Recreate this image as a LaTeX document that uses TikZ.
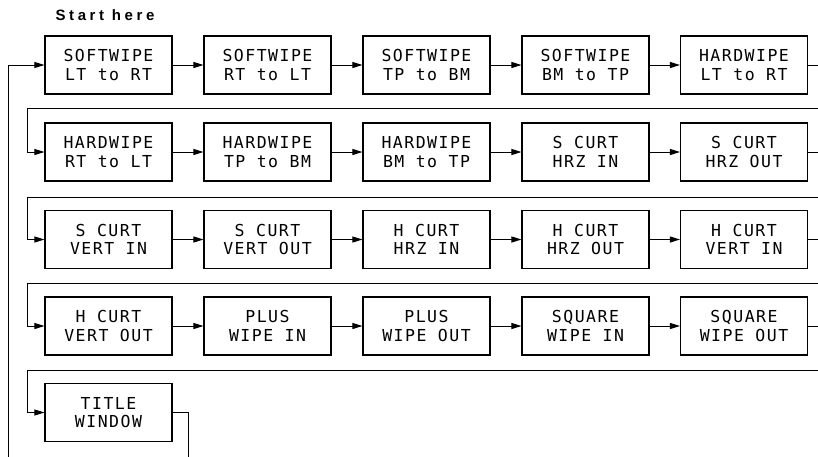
\documentclass[tikz,border=0pt]{standalone}
\usepackage{fontspec}
\setmainfont{Liberation Sans}
\newfontfamily\lcdfont[LetterSpace=9]{DejaVu Sans Mono}
\newfontfamily\headfont[LetterSpace=24]{Liberation Sans}
\usetikzlibrary{arrows, arrows.meta}

\begin{document}
\begin{tikzpicture}[x=1pt, y=-1pt, line width=1pt, >={Triangle[length=10pt, width=6pt]},
	mode/.style={draw, line width=1.1pt, minimum width=127pt, minimum height=58pt,
		inner sep=0pt, align=center, font=\lcdfont\fontsize{16.5}{18.5}\selectfont}]
			
			\clip (0,0) rectangle (818,456);
			
			\node[font=\headfont\bfseries\fontsize{15}{17}\selectfont] (start) at (105,15.5) {Start here};
			
			% row 1
			\node[mode] (sw1) at (108.5,65) {SOFTWIPE\\LT to RT};
			\node[mode] (sw2) at (267.5,65) {SOFTWIPE\\RT to LT};
			\node[mode] (sw3) at (426.5,65) {SOFTWIPE\\TP to BM};
			\node[mode] (sw4) at (585.5,65) {SOFTWIPE\\BM to TP};
			\node[mode] (hw1) at (744,65) {HARDWIPE\\LT to RT};
			
			% row 2
			\node[mode] (hw2) at (108.5,152) {HARDWIPE\\RT to LT};
			\node[mode] (hw3) at (267.5,152) {HARDWIPE\\TP to BM};
			\node[mode] (hw4) at (426.5,152) {HARDWIPE\\BM to TP};
			\node[mode] (sc1) at (585.5,152) {S CURT\\HRZ IN};
			\node[mode] (sc2) at (744,152) {S CURT\\HRZ OUT};
			
			% row 3
			\node[mode] (sc3) at (108.5,239.5) {S CURT\\VERT IN};
			\node[mode] (sc4) at (267.5,239.5) {S CURT\\VERT OUT};
			\node[mode] (hc1) at (426.5,239.5) {H CURT\\HRZ IN};
			\node[mode] (hc2) at (585.5,239.5) {H CURT\\HRZ OUT};
			\node[mode] (hc3) at (744,239.5) {H CURT\\VERT IN};
			
			% row 4
			\node[mode] (hc4) at (108.5,326) {H CURT\\VERT OUT};
			\node[mode] (pl1) at (267.5,326) {PLUS\\WIPE IN};
			\node[mode] (pl2) at (426.5,326) {PLUS\\WIPE OUT};
			\node[mode] (sq1) at (585.5,326) {SQUARE\\WIPE IN};
			\node[mode] (sq2) at (744,326) {SQUARE\\WIPE OUT};
			
			% row 5
			\node[mode] (tw) at (108.5,412.5) {TITLE\\WINDOW};
			
			% bends of the return lines
			\coordinate (ret1) at (824,108);
			\coordinate (ret1l) at (27,108);
			\coordinate (ret2) at (824,197);
			\coordinate (ret2l) at (27,197);
			\coordinate (ret3) at (824,283);
			\coordinate (ret3l) at (27,283);
			\coordinate (ret4) at (824,370);
			\coordinate (ret4l) at (27,370);
			\coordinate (loopr) at (188,462);
			\coordinate (loopl) at (8,462);
			
			\draw[->] (sw1) -- (sw2);
			\draw[->] (sw2) -- (sw3);
			\draw[->] (sw3) -- (sw4);
			\draw[->] (sw4) -- (hw1);
			\draw[->] (hw1.east) -| (ret1) -- (ret1l) |- (hw2.west);
			
			\draw[->] (hw2) -- (hw3);
			\draw[->] (hw3) -- (hw4);
			\draw[->] (hw4) -- (sc1);
			\draw[->] (sc1) -- (sc2);
			\draw[->] (sc2.east) -| (ret2) -- (ret2l) |- (sc3.west);
			
			\draw[->] (sc3) -- (sc4);
			\draw[->] (sc4) -- (hc1);
			\draw[->] (hc1) -- (hc2);
			\draw[->] (hc2) -- (hc3);
			\draw[->] (hc3.east) -| (ret3) -- (ret3l) |- (hc4.west);
			
			\draw[->] (hc4) -- (pl1);
			\draw[->] (pl1) -- (pl2);
			\draw[->] (pl2) -- (sq1);
			\draw[->] (sq1) -- (sq2);
			\draw[->] (sq2.east) -| (ret4) -- (ret4l) |- (tw.west);
			
			\draw[->] (tw.east) -| (loopr) -- (loopl) |- (sw1.west);
		\end{tikzpicture}
\end{document}
